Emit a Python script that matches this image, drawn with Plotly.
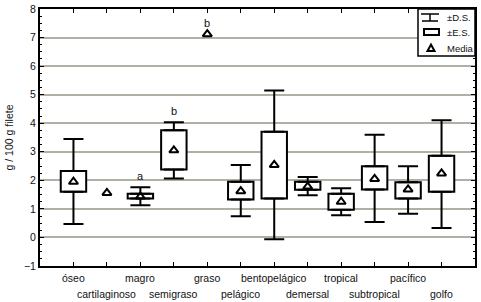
import numpy as np
import plotly.graph_objects as go

categories = ["óseo", "cartilaginoso", "magro", "semigraso", "graso", "pelágico",
              "bentopelágico", "demersal", "tropical", "subtropical", "pacífico", "golfo"]
mean = [1.95, 1.56, 1.43, 3.05, 7.12, 1.62, 2.54, 1.78, 1.25, 2.05, 1.68, 2.24]
se_lo = [1.60, np.nan, 1.36, 2.38, np.nan, 1.33, 1.36, 1.67, 0.97, 1.68, 1.36, 1.60]
se_hi = [2.33, np.nan, 1.53, 3.75, np.nan, 1.95, 3.70, 1.95, 1.53, 2.49, 1.93, 2.86]
sd_lo = [0.47, np.nan, 1.13, 2.06, np.nan, 0.74, -0.06, 1.48, 0.78, 0.54, 0.83, 0.33]
sd_hi = [3.45, np.nan, 1.76, 4.03, np.nan, 2.54, 5.15, 2.12, 1.72, 3.60, 2.49, 4.10]
letters = ["", "", "a", "b", "b", "", "", "", "", "", "", ""]
y_ticks = [-1, 0, 1, 2, 3, 4, 5, 6, 7, 8]

x = list(range(1, len(categories) + 1))
se_lo_a = np.array(se_lo); se_hi_a = np.array(se_hi)
sd_lo_a = np.array(sd_lo); sd_hi_a = np.array(sd_hi)

TXT = "#111111"
FONT = "Liberation Sans, Arial, sans-serif"

fig = go.Figure()
# ±E.S. boxes
fig.add_trace(go.Bar(x=x, y=se_hi_a - se_lo_a, base=se_lo_a, width=0.76,
                     marker=dict(color="white", line=dict(color="black", width=2)),
                     showlegend=False, hoverinfo="skip"))
# ±D.S. whiskers (upper and lower parts)
fig.add_trace(go.Scatter(x=x, y=se_hi_a, mode="markers", marker=dict(size=0.1, color="rgba(0,0,0,0)"),
                         error_y=dict(type="data", symmetric=False, array=sd_hi_a - se_hi_a,
                                      arrayminus=np.zeros(len(x)), color="black", thickness=2, width=10),
                         showlegend=False, hoverinfo="skip"))
fig.add_trace(go.Scatter(x=x, y=se_lo_a, mode="markers", marker=dict(size=0.1, color="rgba(0,0,0,0)"),
                         error_y=dict(type="data", symmetric=False, array=np.zeros(len(x)),
                                      arrayminus=se_lo_a - sd_lo_a, color="black", thickness=2, width=10),
                         showlegend=False, hoverinfo="skip"))
# Means
fig.add_trace(go.Scatter(x=x, y=mean, mode="markers",
                         marker=dict(symbol="triangle-up-open", size=8, color="black", line=dict(width=2)),
                         showlegend=False, hoverinfo="skip"))

annotations = []
for i, (cx, lab) in enumerate(zip(x, categories)):
    row2 = (i % 2 == 1)
    annotations.append(dict(x=cx, y=0, xref="x", yref="paper", text=lab, showarrow=False,
                            yanchor="middle", yshift=-28 if row2 else -12,
                            font=dict(size=10.5, color=TXT, family=FONT)))
for i, let in enumerate(letters):
    if let:
        top = sd_hi[i] if not np.isnan(sd_hi[i]) else mean[i]
        annotations.append(dict(x=x[i], y=top, xref="x", yref="y", text=let, showarrow=False,
                                yanchor="bottom", yshift=3, font=dict(size=11, color=TXT, family=FONT)))

# Legend (drawn manually), pixel -> paper helpers
L, R, T, B = 40, 475, 9, 266
def px(v): return (v - L) / (R - L)
def py(v): return (B - v) / (B - T)

shapes = [
    dict(type="rect", xref="paper", yref="paper", x0=px(418), x1=px(475), y0=py(56), y1=py(9),
         line=dict(color="black", width=1.5), fillcolor="white", layer="above"),
    dict(type="line", xref="paper", yref="paper", x0=px(421), x1=px(439), y0=py(14), y1=py(14),
         line=dict(color="black", width=1.5), layer="above"),
    dict(type="line", xref="paper", yref="paper", x0=px(422), x1=px(438), y0=py(21), y1=py(21),
         line=dict(color="black", width=1.5), layer="above"),
    dict(type="line", xref="paper", yref="paper", x0=px(430), x1=px(430), y0=py(14), y1=py(21),
         line=dict(color="black", width=1.5), layer="above"),
    dict(type="rect", xref="paper", yref="paper", x0=px(424), x1=px(439), y0=py(35), y1=py(29),
         line=dict(color="black", width=2), fillcolor="white", layer="above"),
    dict(type="path", xref="paper", yref="paper",
         path=f"M {px(427.5)} {py(51)} L {px(434.5)} {py(51)} L {px(431)} {py(44.5)} Z",
         line=dict(color="black", width=2), fillcolor="white", layer="above"),
]
for txt, yy in [("±D.S.", 17.5), ("±E.S.", 32), ("Media", 48)]:
    annotations.append(dict(x=px(445), y=py(yy), xref="paper", yref="paper", text=txt, showarrow=False,
                            xanchor="left", yanchor="middle", font=dict(size=9.5, color=TXT, family=FONT)))

fig.update_layout(
    template="none",
    width=481, height=302, margin=dict(l=40, r=6, t=9, b=36),
    paper_bgcolor="white", plot_bgcolor="white", barmode="overlay",
    showlegend=False, annotations=annotations, shapes=shapes,
    font=dict(family=FONT, color=TXT, size=10.5),
    xaxis=dict(range=[0, 13], tickvals=x, showticklabels=False, ticks="inside", ticklen=4,
               tickcolor="black", showgrid=False, zeroline=False, showline=True, linecolor="black",
               linewidth=2, mirror="allticks"),
    yaxis=dict(range=[-1, 8], tickvals=y_ticks, ticks="inside", ticklen=4, tickcolor="black",
               showgrid=True, gridcolor="#b0b0a6", gridwidth=1.5, zeroline=False,
               showline=True, linecolor="black", linewidth=2, mirror="allticks",
               minor=dict(dtick=0.25, ticks="inside", ticklen=2, tickcolor="black", showgrid=False),
               tickfont=dict(size=10.5, color=TXT, family=FONT),
               title=dict(text="g / 100 g filete", standoff=8, font=dict(size=10.5, color=TXT, family=FONT))),
)

fig.write_html("out.html", config={"displayModeBar": False},
               post_script="document.body.style.margin='0';document.body.style.overflow='hidden';")
